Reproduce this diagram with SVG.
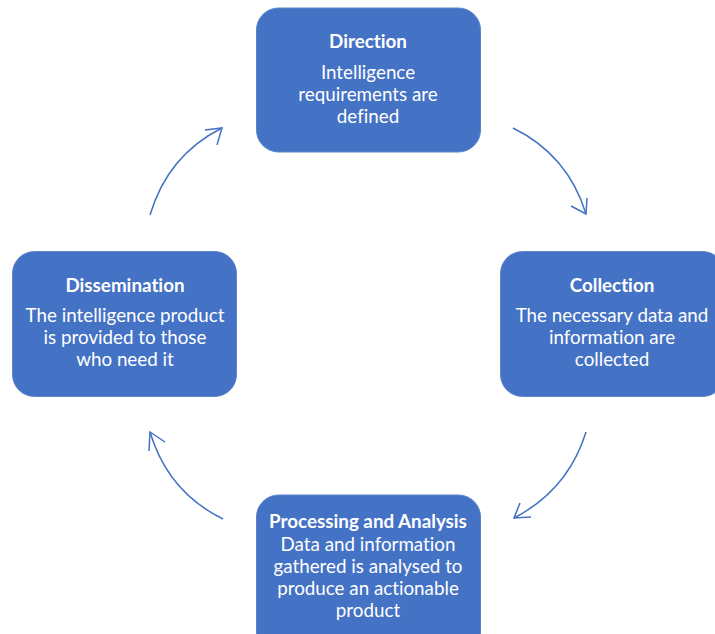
<svg xmlns="http://www.w3.org/2000/svg" width="715" height="634" viewBox="0 0 715 634">
<style>
.box{fill:#4472C4;stroke:#5B84CC;stroke-width:1}
.t{font-family:Lato,"Open Sans","Liberation Sans",sans-serif;font-size:18.8px;fill:#FFFFFF;text-anchor:middle;font-variant-ligatures:none;font-feature-settings:"liga" 0}
.b{font-weight:bold;font-size:18.8px}
.c{fill:none;stroke:#4472C4;stroke-width:1.5}
</style>
<rect width="715" height="634" fill="#FFFFFF"/>
<g id="connectors">
<path class="c" d="M513,128 Q568,155 586,214"/>
<path class="c" d="M571,206 L586,214 L587,198"/>
<path class="c" d="M586,432 Q568,490 514,518"/>
<path class="c" d="M520,503 L514,518 L531,517"/>
<path class="c" d="M223,519 Q168,492 150,432"/>
<path class="c" d="M149,451 L150,432 L165,442"/>
<path class="c" d="M150,215 Q168,155 222,128"/>
<path class="c" d="M205,130 L222,128 L217,145"/>
</g>
<g id="direction">
<rect class="box" x="256.5" y="8" width="224" height="144" rx="22"/>
<text class="t b" x="368" y="48">Direction</text>
<text class="t" x="368" y="79">Intelligence</text>
<text class="t" x="368" y="101">requirements are</text>
<text class="t" x="368" y="123">defined</text>
</g>
<g id="collection">
<rect class="box" x="500.5" y="251.5" width="224" height="145" rx="22"/>
<text class="t b" x="612" y="292">Collection</text>
<text class="t" x="612" y="322">The necessary data and</text>
<text class="t" x="612" y="344">information are</text>
<text class="t" x="612" y="366">collected</text>
</g>
<g id="dissemination">
<rect class="box" x="12.5" y="251.5" width="224" height="145" rx="22"/>
<text class="t b" x="125" y="292">Dissemination</text>
<text class="t" x="125" y="322">The intelligence product</text>
<text class="t" x="125" y="344">is provided to those</text>
<text class="t" x="125" y="366">who need it</text>
</g>
<g id="processing">
<rect class="box" x="256.5" y="495" width="224" height="160" rx="22"/>
<text class="t b" x="368" y="528">Processing and Analysis</text>
<text class="t" x="368" y="551">Data and information</text>
<text class="t" x="368" y="573">gathered is analysed to</text>
<text class="t" x="368" y="595">produce an actionable</text>
<text class="t" x="368" y="617">product</text>
</g>
</svg>
